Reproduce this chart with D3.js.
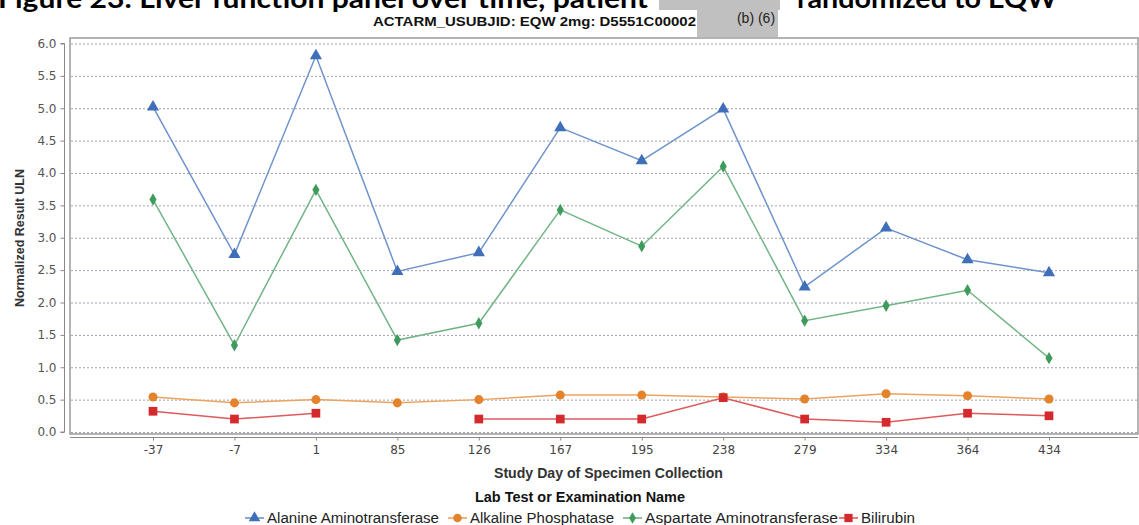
<!DOCTYPE html>
<html>
<head>
<meta charset="utf-8">
<script src="https://cdn.jsdelivr.net/npm/d3@7"></script>
<style>
  html, body { margin: 0; padding: 0; background: #fff; }
  svg { display: block; }
</style>
</head>
<body>
<svg id="chart" width="1139" height="525"></svg>
<script>
// Study days (categories on the x axis)
const studyDays = ["-37", "-7", "1", "85", "126", "167", "195", "238", "279", "334", "364", "434"];

// Normalized lab results (multiples of ULN); null = no sample
const alanine   = [5.02, 2.74, 5.81, 2.48, 2.77, 4.70, 4.19, 4.99, 2.24, 3.15, 2.66, 2.46];
const alkaline  = [0.54, 0.45, 0.50, 0.45, 0.50, 0.57, 0.57, 0.54, 0.51, 0.59, 0.56, 0.51];
const aspartate = [3.59, 1.34, 3.74, 1.42, 1.68, 3.43, 2.87, 4.10, 1.72, 1.95, 2.19, 1.14];
const bilirubin = [0.32, 0.20, 0.29, null, 0.20, 0.20, 0.20, 0.53, 0.20, 0.15, 0.29, 0.25];

const yTicks = [0, 0.5, 1, 1.5, 2, 2.5, 3, 3.5, 4, 4.5, 5, 5.5, 6];

const seriesNames = ["Alanine Aminotransferase", "Alkaline Phosphatase", "Aspartate Aminotransferase", "Bilirubin"];

const series = [
  { name: seriesNames[0], values: alanine,   color: "#3f6fb8", line: "#6f93cc", symbol: d3.symbolTriangle, size: 64 },
  { name: seriesNames[1], values: alkaline,  color: "#e3842c", line: "#eba460", symbol: d3.symbolCircle,   size: 64 },
  { name: seriesNames[2], values: aspartate, color: "#3e9b5c", line: "#72b486", symbol: d3.symbolDiamond,  size: 44 },
  { name: seriesNames[3], values: bilirubin, color: "#d42a2e", line: "#de5a5d", symbol: d3.symbolSquare,   size: 76 }
];

const svg = d3.select("#chart");

const plot = { left: 70, top: 38, right: 1138, bottom: 434 };

const x = d3.scalePoint().domain(studyDays).range([153, 1049]);
const y = d3.scaleLinear().domain([0, 6]).range([432, 43.5]);

const narrow = "'Liberation Sans Narrow', 'Arial Narrow', 'Liberation Sans', Arial, sans-serif";
const sans = "'Liberation Sans', Arial, sans-serif";
const tickFont = "'DejaVu Sans', Verdana, sans-serif";
const headFont = "Lato, 'Open Sans', sans-serif";

// Figure heading (runs off the top edge)
svg.append("text")
  .attr("x", -2).attr("y", 8)
  .attr("font-family", headFont)
  .attr("font-weight", "bold")
  .attr("font-size", 26)
  .attr("fill", "#000")
  .attr("textLength", 650).attr("lengthAdjust", "spacingAndGlyphs")
  .text("Figure 23: Liver function panel over time, patient");
svg.append("text")
  .attr("x", 797).attr("y", 8)
  .attr("font-family", headFont)
  .attr("font-weight", "bold")
  .attr("font-size", 26)
  .attr("fill", "#000")
  .attr("textLength", 260).attr("lengthAdjust", "spacingAndGlyphs")
  .text("randomized to EQW");

// Redaction blocks
svg.append("rect")
  .attr("x", 659).attr("y", 0).attr("width", 121).attr("height", 10)
  .attr("fill", "#c0c0c0");
svg.append("rect")
  .attr("x", 697).attr("y", 0).attr("width", 81).attr("height", 37)
  .attr("fill", "#c0c0c0");

// Subtitle
svg.append("text")
  .attr("x", 373).attr("y", 26)
  .attr("font-family", narrow)
  .attr("font-weight", "bold")
  .attr("font-size", 13)
  .attr("fill", "#111")
  .attr("textLength", 323).attr("lengthAdjust", "spacingAndGlyphs")
  .text("ACTARM_USUBJID: EQW 2mg: D5551C00002");

svg.append("text")
  .attr("x", 756).attr("y", 23)
  .attr("text-anchor", "middle")
  .attr("font-family", sans)
  .attr("font-size", 14)
  .attr("fill", "#222")
  .text("(b) (6)");

// Plot frame
svg.append("rect")
  .attr("x", plot.left).attr("y", plot.top)
  .attr("width", plot.right - plot.left).attr("height", plot.bottom - plot.top)
  .attr("fill", "#fff")
  .attr("stroke", "#9a9a9a").attr("stroke-width", 1.5);

// Horizontal grid lines
svg.append("g")
  .selectAll("line")
  .data(yTicks)
  .join("line")
  .attr("x1", plot.left + 1).attr("x2", plot.right - 1)
  .attr("y1", d => y(d) + 0.5).attr("y2", d => y(d) + 0.5)
  .attr("stroke", "#a0a0b0").attr("stroke-width", 1)
  .attr("stroke-dasharray", "2,2");

// Y axis
const yAxis = d3.axisLeft(y)
  .tickValues(yTicks)
  .tickFormat(d3.format(".1f"))
  .tickSize(4)
  .tickPadding(4);
const gy = svg.append("g").attr("transform", "translate(64.5,0)").call(yAxis);
gy.select(".domain").attr("stroke", "#888").attr("d", `M-4,${y(6)}H0V${y(0)}H-4`);
gy.selectAll(".tick line").attr("stroke", "#888");
gy.selectAll(".tick text")
  .attr("font-family", tickFont).attr("font-size", 12).attr("fill", "#555");

// X axis
const xAxis = d3.axisBottom(x).tickSize(3).tickPadding(5);
const gx = svg.append("g").attr("transform", "translate(0,437.5)").call(xAxis);
gx.select(".domain").attr("stroke", "#888").attr("d", `M${plot.left},0H${plot.right}`);
gx.selectAll(".tick line").attr("stroke", "#888");
gx.selectAll(".tick text")
  .attr("font-family", tickFont).attr("font-size", 12).attr("fill", "#444");

// Axis titles
svg.append("text")
  .attr("transform", "translate(24,238) rotate(-90)")
  .attr("text-anchor", "middle")
  .attr("font-family", narrow).attr("font-weight", "bold").attr("font-size", 13)
  .attr("fill", "#333")
  .attr("textLength", 138).attr("lengthAdjust", "spacingAndGlyphs")
  .text("Normalized Result ULN");

svg.append("text")
  .attr("x", 608.5).attr("y", 478)
  .attr("text-anchor", "middle")
  .attr("font-family", sans).attr("font-weight", "bold").attr("font-size", 14)
  .attr("fill", "#333")
  .attr("textLength", 229).attr("lengthAdjust", "spacingAndGlyphs")
  .text("Study Day of Specimen Collection");

// Series lines and markers
const line = d3.line()
  .defined(d => d.v !== null)
  .x(d => x(d.day))
  .y(d => y(d.v));

const gSeries = svg.append("g");
series.forEach(s => {
  const pts = studyDays.map((day, i) => ({ day, v: s.values[i] }));
  gSeries.append("path")
    .datum(pts)
    .attr("d", line)
    .attr("fill", "none")
    .attr("stroke", s.line).attr("stroke-width", 1.5);
});
series.forEach(s => {
  const pts = studyDays.map((day, i) => ({ day, v: s.values[i] })).filter(d => d.v !== null);
  gSeries.append("g")
    .selectAll("path")
    .data(pts)
    .join("path")
    .attr("transform", d => `translate(${x(d.day)},${y(d.v)})`)
    .attr("d", d3.symbol().type(s.symbol).size(s.size))
    .attr("fill", s.color);
});

// Legend
svg.append("text")
  .attr("x", 580).attr("y", 502)
  .attr("text-anchor", "middle")
  .attr("font-family", sans).attr("font-weight", "bold").attr("font-size", 14)
  .attr("fill", "#111")
  .attr("textLength", 210).attr("lengthAdjust", "spacingAndGlyphs")
  .text("Lab Test or Examination Name");

const legendX = [245, 448, 623, 839];
const legendTextLen = [172, 144, 193, 54];
const legend = svg.append("g");
series.forEach((s, i) => {
  const g = legend.append("g").attr("transform", `translate(${legendX[i]},518)`);
  g.append("line").attr("x1", 0).attr("x2", 19).attr("y1", 0).attr("y2", 0)
    .attr("stroke", s.line).attr("stroke-width", 1.6);
  g.append("path").attr("transform", "translate(9.5,0)")
    .attr("d", d3.symbol().type(s.symbol).size(s.size * 0.9))
    .attr("fill", s.color);
  g.append("text").attr("x", 22).attr("y", 5)
    .attr("font-family", sans).attr("font-size", 14).attr("fill", "#222")
    .attr("textLength", legendTextLen[i]).attr("lengthAdjust", "spacingAndGlyphs")
    .text(s.name);
});
</script>
</body>
</html>
